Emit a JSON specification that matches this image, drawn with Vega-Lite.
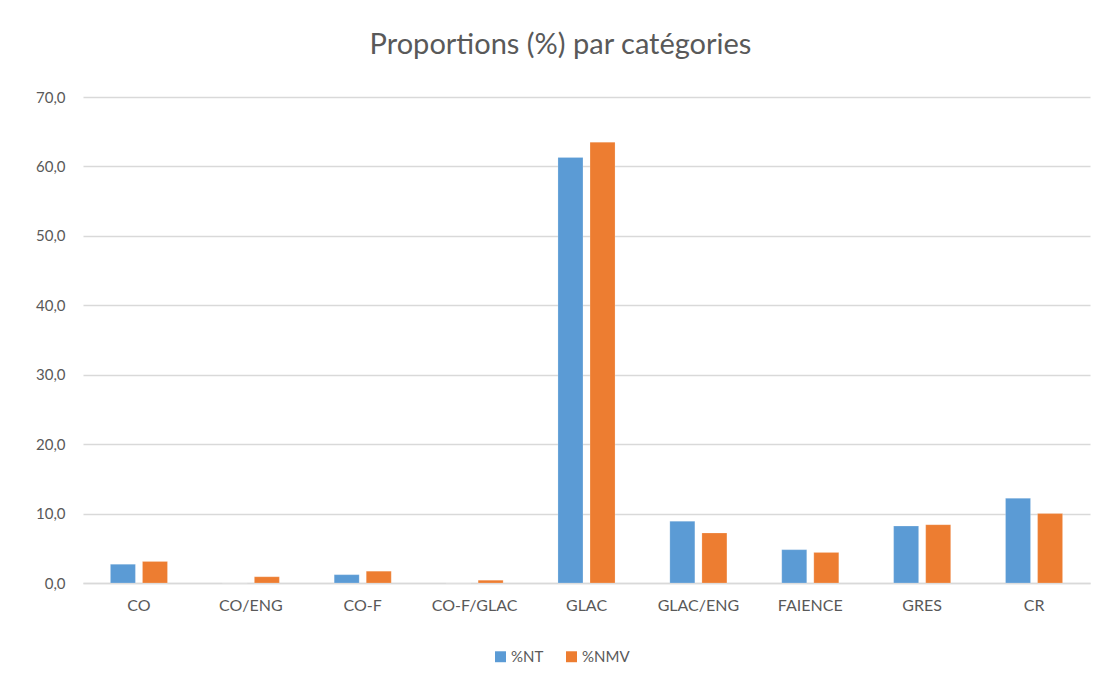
{
  "$schema": "https://vega.github.io/schema/vega-lite/v6.json",
  "width": 1007,
  "height": 486,
  "autosize": {"type": "none"},
  "padding": {"left": 83, "top": 97, "right": 15, "bottom": 109},
  "background": "white",
  "title": {
    "text": "Proportions (%) par catégories",
    "font": "Lato",
    "fontSize": 29,
    "fontWeight": "normal",
    "color": "#595959",
    "anchor": "middle",
    "dx": -26,
    "offset": 30
  },
  "data": {
    "values": [
      {"cat": "CO", "serie": "%NT", "val": 2.7},
      {"cat": "CO", "serie": "%NMV", "val": 3.1},
      {"cat": "CO/ENG", "serie": "%NT", "val": 0.0},
      {"cat": "CO/ENG", "serie": "%NMV", "val": 0.9},
      {"cat": "CO-F", "serie": "%NT", "val": 1.2},
      {"cat": "CO-F", "serie": "%NMV", "val": 1.7},
      {"cat": "CO-F/GLAC", "serie": "%NT", "val": 0.0},
      {"cat": "CO-F/GLAC", "serie": "%NMV", "val": 0.4},
      {"cat": "GLAC", "serie": "%NT", "val": 61.3},
      {"cat": "GLAC", "serie": "%NMV", "val": 63.5},
      {"cat": "GLAC/ENG", "serie": "%NT", "val": 8.9},
      {"cat": "GLAC/ENG", "serie": "%NMV", "val": 7.2},
      {"cat": "FAIENCE", "serie": "%NT", "val": 4.8},
      {"cat": "FAIENCE", "serie": "%NMV", "val": 4.4},
      {"cat": "GRES", "serie": "%NT", "val": 8.2},
      {"cat": "GRES", "serie": "%NMV", "val": 8.4},
      {"cat": "CR", "serie": "%NT", "val": 12.2},
      {"cat": "CR", "serie": "%NMV", "val": 10.0}
    ]
  },
  "mark": {"type": "bar", "stroke": "white", "strokeOpacity": 0.4, "strokeWidth": 0.5},
  "encoding": {
    "x": {
      "field": "cat",
      "type": "nominal",
      "sort": ["CO", "CO/ENG", "CO-F", "CO-F/GLAC", "GLAC", "GLAC/ENG", "FAIENCE", "GRES", "CR"],
      "scale": {"paddingInner": 0.49, "paddingOuter": 0.245},
      "axis": {
        "title": null,
        "labelAngle": 0,
        "ticks": false,
        "domain": true,
        "domainColor": "#d9d9d9",
        "domainWidth": 1.5,
        "labelFont": "Lato",
        "labelFontSize": 16,
        "labelColor": "#595959",
        "labelPadding": 14
      }
    },
    "xOffset": {
      "field": "serie",
      "type": "nominal",
      "sort": ["%NT", "%NMV"],
      "scale": {"paddingInner": 0.22}
    },
    "y": {
      "field": "val",
      "type": "quantitative",
      "scale": {"domain": [0, 70]},
      "axis": {
        "title": null,
        "values": [0, 10, 20, 30, 40, 50, 60, 70],
        "labelExpr": "replace(format(datum.value, '.1f'), '.', ',')",
        "ticks": false,
        "domain": false,
        "grid": true,
        "gridColor": "#d9d9d9",
        "gridWidth": 1.3,
        "labelFont": "Lato",
        "labelFontSize": 15,
        "labelColor": "#595959",
        "labelPadding": 18
      }
    },
    "color": {
      "field": "serie",
      "type": "nominal",
      "sort": ["%NT", "%NMV"],
      "scale": {"domain": ["%NT", "%NMV"], "range": ["#5b9bd5", "#ed7d31"]},
      "legend": {
        "title": null,
        "orient": "none",
        "legendX": 410,
        "legendY": 552,
        "direction": "horizontal",
        "symbolType": "square",
        "symbolSize": 120,
        "symbolStrokeWidth": 0,
        "labelFont": "Lato",
        "labelFontSize": 15,
        "labelColor": "#595959",
        "columnPadding": 20,
        "labelOffset": 3
      }
    }
  },
  "config": {
    "view": {"stroke": null}
  }
}
